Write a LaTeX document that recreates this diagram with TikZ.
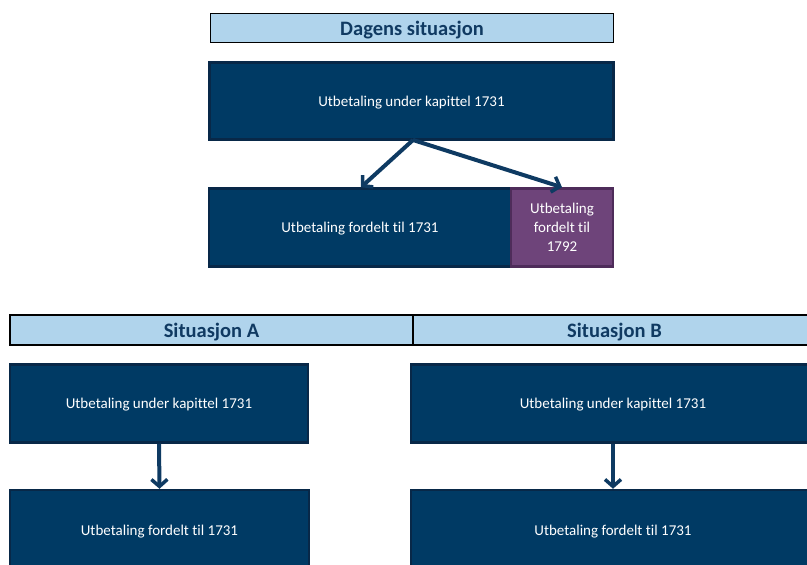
\documentclass[tikz,border=0pt]{standalone}
\usepackage{fontspec}
\setmainfont{Carlito}[Ligatures=NoCommon]
\usetikzlibrary{arrows.meta}
\definecolor{boxfill}{RGB}{0,58,100}
\definecolor{boxline}{RGB}{8,40,72}
\definecolor{purfill}{RGB}{110,68,122}
\definecolor{purline}{RGB}{78,44,90}
\definecolor{hdrfill}{RGB}{176,212,236}
\definecolor{hdrtext}{RGB}{16,58,98}
\definecolor{arrcol}{RGB}{14,58,98}
\tikzset{
  box/.style={rectangle, draw=boxline, fill=boxfill, line width=2.5pt, text=white, font=\fontsize{15}{19}\selectfont, align=center, inner sep=0pt},
  sbox/.style={box, text depth=0pt},
  pbox/.style={box, draw=purline, fill=purfill},
  hdr/.style={rectangle, draw=black, fill=hdrfill, line width=1.5pt, text=hdrtext, font=\bfseries\fontsize{20.5}{24}\selectfont, inner sep=0pt, text depth=0pt},
  conn/.style={draw=arrcol, line width=4pt, -{Straight Barb[length=7pt,width=16pt,line width=3.5pt]}}
}
\begin{document}
\begin{tikzpicture}[x=1pt,y=-1pt]
\useasboundingbox (0,0) rectangle (807,565);
\clip (0,0) rectangle (807,565);
% top
\node[hdr, minimum width=403pt, minimum height=29pt] (h0) at (412,28) {Dagens situasjon};
\node[sbox, minimum width=404pt, minimum height=77pt] (k0) at (411.5,101) {Utbetaling under kapittel 1731};
\node[sbox, minimum width=302pt, minimum height=78pt] (f0) at (360,227.5) {Utbetaling fordelt til 1731};
\node[pbox, minimum width=102pt, minimum height=78pt] (p0) at (562,227.5) {Utbetaling\\fordelt til\\1792};
\coordinate (s0) at (413,140);
\draw[conn] (s0) -- (f0.north -| 361,0);
\draw[conn] (s0) -- (p0.north);
% bottom headers
\node[hdr, minimum width=403pt, minimum height=30pt] (ha) at (211.5,330) {Situasjon A};
\node[hdr, minimum width=403pt, minimum height=30pt] (hb) at (614.5,330) {Situasjon B};
% situation A
\node[sbox, minimum width=298pt, minimum height=78pt] (ka) at (159,403.5) {Utbetaling under kapittel 1731};
\node[sbox, minimum width=299pt, minimum height=80pt] (fa) at (159.5,530) {Utbetaling fordelt til 1731};
\draw[conn] (ka.south) -- (fa.north);
% situation B
\node[sbox, minimum width=404pt, minimum height=78pt] (kb) at (613,403.5) {Utbetaling under kapittel 1731};
\node[sbox, minimum width=404pt, minimum height=80pt] (fb) at (613,530) {Utbetaling fordelt til 1731};
\draw[conn] (kb.south) -- (fb.north);
\end{tikzpicture}
\end{document}
